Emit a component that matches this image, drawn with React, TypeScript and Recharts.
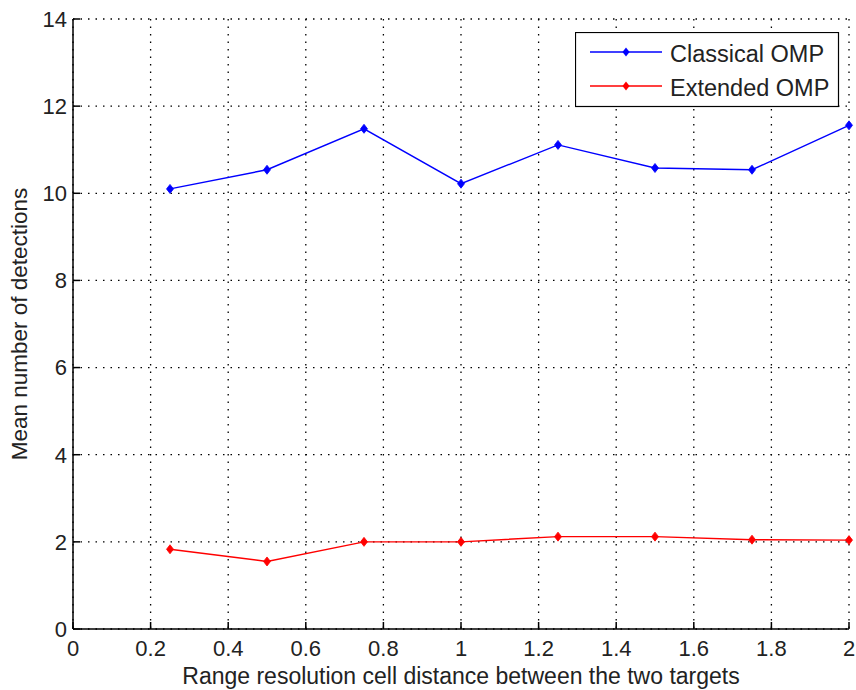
import React from 'react';
import { LineChart, Line, XAxis, YAxis, CartesianGrid } from 'recharts';

const distances = [0.25, 0.5, 0.75, 1, 1.25, 1.5, 1.75, 2];
const classicalOmp = [10.1, 10.54, 11.48, 10.22, 11.11, 10.58, 10.54, 11.56];
const extendedOmp = [1.83, 1.55, 2.0, 2.0, 2.12, 2.12, 2.05, 2.04];
const xTicks = [0, 0.2, 0.4, 0.6, 0.8, 1, 1.2, 1.4, 1.6, 1.8, 2];
const yTicks = [0, 2, 4, 6, 8, 10, 12, 14];
const seriesNames = ['Classical OMP', 'Extended OMP'];

const data = distances.map((d, i) => ({
  d,
  classical: classicalOmp[i],
  extended: extendedOmp[i],
}));

const FONT = 'Liberation Sans, Arial, sans-serif';
const BLUE = '#0000ff';
const RED = '#ff0000';

const Diamond = (color: string) => (props: any) => {
  const { cx, cy, index } = props;
  if (cx == null || cy == null) return null;
  return (
    <path
      key={index}
      d={`M${cx},${cy - 4.5} L${cx + 3.5},${cy} L${cx},${cy + 4.5} L${cx - 3.5},${cy} Z`}
      fill={color}
      stroke={color}
      strokeWidth={0.8}
    />
  );
};

// legend box drawn on its own, over the plot's upper right corner
const LegendBox = () => {
  const colors = [BLUE, RED];
  return (
    <svg
      width={265}
      height={76}
      style={{ position: 'absolute', left: 575, top: 32, display: 'block' }}
    >
      <rect x={0.5} y={0.5} width={263} height={74} fill="#fff" stroke="#000" strokeWidth={1.2} />
      {seriesNames.map((name, i) => {
        const y = 20 + i * 34;
        return (
          <g key={name}>
            <line x1={15} x2={87} y1={y} y2={y} stroke={colors[i]} strokeWidth={1.4} />
            <path d={`M51,${y - 4.5} L54.5,${y} L51,${y + 4.5} L47.5,${y} Z`} fill={colors[i]} />
            <text x={95} y={y + 10} fontSize={23.5} fontFamily={FONT} fill="#222">
              {name}
            </text>
          </g>
        );
      })}
    </svg>
  );
};

export default function App() {
  return (
    <div style={{ position: 'absolute', left: 0, top: 0, width: 856, height: 690, background: '#fff' }}>
      <LineChart
        width={856}
        height={690}
        data={data}
        margin={{ top: 19, right: 7, left: 0, bottom: 0 }}
      >
        <CartesianGrid stroke="#000" strokeDasharray="1.5 6" strokeWidth={1.3} />
        <XAxis
          dataKey="d"
          type="number"
          domain={[0, 2]}
          ticks={xTicks}
          height={61}
          axisLine={{ stroke: '#000', strokeWidth: 1.5 }}
          tickLine={{ stroke: '#000', strokeWidth: 1.5 }}
          tickSize={-7}
          tickMargin={18}
          tick={{ fill: '#222', fontSize: 22, fontFamily: FONT }}
          interval={0}
          label={{
            value: 'Range resolution cell distance between the two targets',
            position: 'insideBottom',
            offset: 6,
            fill: '#222',
            fontSize: 23,
            fontFamily: FONT,
          }}
        />
        <YAxis
          type="number"
          domain={[0, 14]}
          ticks={yTicks}
          width={73}
          axisLine={{ stroke: '#000', strokeWidth: 1.5 }}
          tickLine={{ stroke: '#000', strokeWidth: 1.5 }}
          tickSize={-7}
          tickMargin={13}
          tick={{ fill: '#222', fontSize: 22, fontFamily: FONT }}
          interval={0}
          label={{
            value: 'Mean number of detections',
            angle: -90,
            position: 'insideLeft',
            offset: 19,
            fill: '#222',
            fontSize: 22.5,
            fontFamily: FONT,
            style: { textAnchor: 'middle' },
          }}
        />
        <Line
          dataKey="classical"
          name={seriesNames[0]}
          stroke={BLUE}
          strokeWidth={1.4}
          dot={Diamond(BLUE)}
          activeDot={false}
          isAnimationActive={false}
        />
        <Line
          dataKey="extended"
          name={seriesNames[1]}
          stroke={RED}
          strokeWidth={1.4}
          dot={Diamond(RED)}
          activeDot={false}
          isAnimationActive={false}
        />
      </LineChart>
      <LegendBox />
    </div>
  );
}
